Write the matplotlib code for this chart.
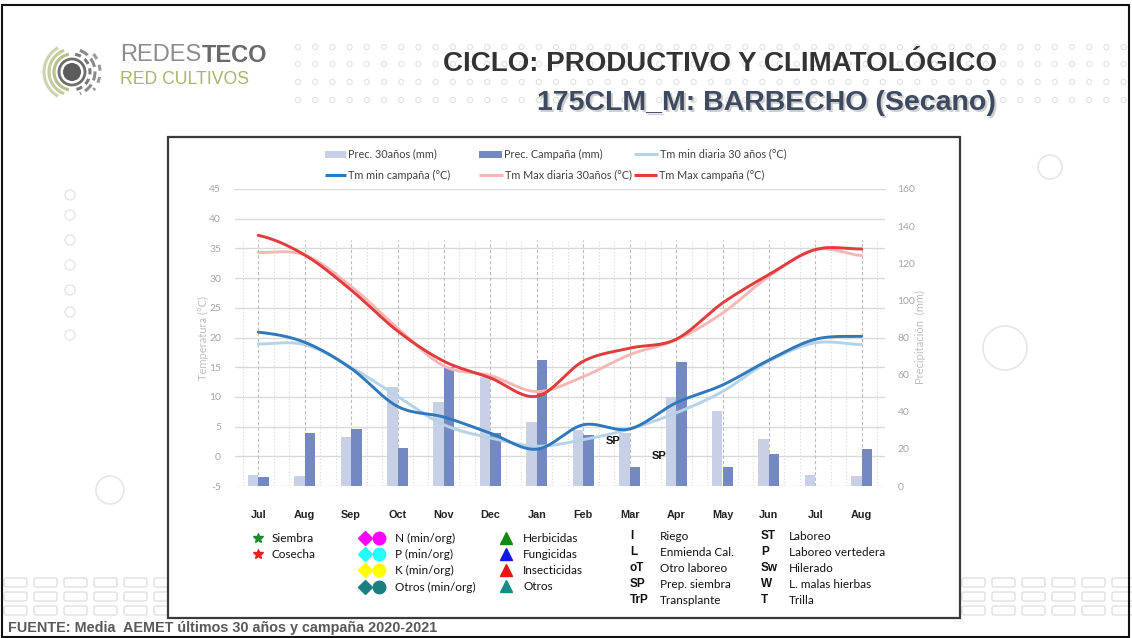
import numpy as np
import matplotlib.pyplot as plt
from matplotlib import font_manager
from matplotlib.patches import Rectangle, Circle, FancyBboxPatch, Arc

plt.rcParams['axes.unicode_minus'] = False

W, H = 1132, 638

# monthly data, Jul 2020 -> Aug 2021
months = ['Jul', 'Aug', 'Sep', 'Oct', 'Nov', 'Dec', 'Jan', 'Feb', 'Mar', 'Apr', 'May', 'Jun', 'Jul', 'Aug']
prec_30 = [6.1, 5.4, 26.6, 53.3, 45.1, 58.9, 34.7, 30.2, 28.4, 47.8, 40.6, 25.3, 6.1, 5.4]
prec_campaign = [5.0, 28.4, 30.9, 20.6, 64.3, 28.4, 67.9, 27.5, 10.1, 66.8, 10.4, 17.2, 0.0, 19.9]
tmin_30 = [18.9, 18.8, 15.0, 10.1, 5.3, 3.1, 1.7, 2.8, 4.6, 7.3, 10.9, 16.0, 19.1, 18.8]
tmin_campaign = [20.9, 19.2, 14.8, 8.4, 6.6, 3.9, 1.2, 5.3, 4.6, 9.0, 12.0, 16.2, 19.7, 20.2]
tmax_30 = [34.3, 33.9, 28.6, 21.6, 15.2, 13.6, 10.9, 13.4, 17.1, 19.6, 24.1, 30.3, 34.8, 33.8]
tmax_campaign = [37.2, 33.9, 28.0, 21.1, 16.0, 13.2, 10.1, 16.0, 18.2, 19.7, 25.8, 30.6, 34.8, 34.9]

# field operations marked on the chart (month index, temperature)
ops_labels = ['SP', 'SP']
ops_x = [7.65, 8.64]
ops_y = [2.6, 0.0]

C_P30, C_PCAMP = '#c8d0e7', '#7489c0'
C_TMIN30, C_TMIN = '#b5d3e8', '#2f78bb'
C_TMAX30, C_TMAX = '#f5b7b5', '#e33b3b'


def has_font(name):
    return any(f.name == name for f in font_manager.fontManager.ttflist)


narrow = 'Liberation Sans Narrow' if has_font('Liberation Sans Narrow') else 'Liberation Sans'
body = 'Lato'


def smooth(y, n=24):
    # Catmull-Rom curve through the monthly points (like a smoothed line)
    y = np.asarray(y, dtype=float)
    pts = np.concatenate([[y[0]], y, [y[-1]]])
    xs, ys = [], []
    for i in range(len(y) - 1):
        p0, p1, p2, p3 = pts[i], pts[i + 1], pts[i + 2], pts[i + 3]
        t = np.linspace(0, 1, n, endpoint=False)
        seg = 0.5 * ((2 * p1) + (-p0 + p2) * t + (2 * p0 - 5 * p1 + 4 * p2 - p3) * t ** 2
                     + (-p0 + 3 * p1 - 3 * p2 + p3) * t ** 3)
        xs.append(i + t)
        ys.append(seg)
    xs.append([len(y) - 1])
    ys.append([y[-1]])
    return np.concatenate(xs), np.concatenate(ys)


fig = plt.figure(figsize=(W / 100, H / 100), dpi=100)
fig.patch.set_facecolor('white')

# background layer in pixel coordinates
bg = fig.add_axes([0, 0, 1, 1])
bg.set_xlim(0, W)
bg.set_ylim(H, 0)
bg.axis('off')

# dotted band behind the title
for yy in [47, 64, 82, 100]:
    for xx in np.arange(298, W, 17.2):
        bg.add_patch(Circle((xx, yy), 2.6, fill=False, ec='#e2e2e2', lw=0.8))

# faint circles
for cx, cy, r in [(1050, 167, 12), (1005, 348, 22), (110, 490, 14)]:
    bg.add_patch(Circle((cx, cy), r, fc='white', ec='#e6e6e6', lw=1.2))
for cy in [195, 215, 240, 265, 290, 312, 335]:
    bg.add_patch(Circle((70, cy), 5, fc='white', ec='#e6e6e6', lw=1.0))

# rounded boxes at the bottom corners
for yy in [578, 592, 606]:
    for xx in list(np.arange(4, 165, 30)) + list(np.arange(962, W, 30)):
        bg.add_patch(FancyBboxPatch((xx, yy), 23, 9, boxstyle='round,pad=0,rounding_size=2',
                                    fc='none', ec='#dcdcdc', lw=0.9))

# logo
lx, ly = 72, 72
bg.add_patch(Circle((lx, ly), 9, fc='#5b5b5b', ec='none'))
bg.add_patch(Circle((lx, ly), 13, fc='none', ec='#6d6d6d', lw=2))
for r, col, t1, t2, ls in [(18, '#7a7a7a', -80, 80, (0, (2, 1.5))), (23, '#8a8a8a', -70, 70, (0, (3, 1.5))),
                           (18, '#b7bf8a', 100, 260, '-'), (23, '#c4cb9c', 110, 250, '-'),
                           (28, '#cdd3aa', 120, 240, '-'), (28, '#9a9a9a', -40, 40, (0, (2, 2)))]:
    bg.add_patch(Arc((lx, ly), 2 * r, 2 * r, theta1=t1, theta2=t2, color=col, lw=2.2, ls=ls))

t1 = bg.text(120, 55, 'REDES', fontsize=17, color='#8c8c8c', family='Liberation Sans',
             va='center', ha='left')
fig.canvas.draw()
bb = t1.get_window_extent(fig.canvas.get_renderer())
bg.text(bb.x1, 55, 'TECO', fontsize=17, color='#6a6a6a', family='Liberation Sans',
        weight='bold', va='center', ha='left')
bg.text(120, 79, 'RED CULTIVOS', fontsize=12.7, color='#a9b46c', family='Liberation Sans',
        va='center', ha='left')

# titles
bg.text(997, 64, 'CICLO: PRODUCTIVO Y CLIMATOLÓGICO', fontsize=20, weight='bold',
        color='#333333', family=narrow, ha='right', va='center')
bg.text(998, 105, '175CLM_M: BARBECHO (Secano)', fontsize=20.5, weight='bold',
        color='#cfcfcf', family=narrow, ha='right', va='center')
bg.text(996, 103, '175CLM_M: BARBECHO (Secano)', fontsize=20.5, weight='bold',
        color='#3d4a60', family=narrow, ha='right', va='center')

# chart frame and outer frame
bg.add_patch(Rectangle((168, 137), 792, 481, fc='white', ec='#3a3a3a', lw=1.6))
bg.add_patch(Rectangle((2, 5), 1127, 632, fc='none', ec='#111111', lw=1.5))

bg.text(8, 628, 'FUENTE: Media  AEMET últimos 30 años y campaña 2020-2021', fontsize=10.4,
        weight='bold', color='#595959', family='Liberation Sans', va='center', ha='left')

# series key above the plot
leg_font = dict(fontsize=7.8, color='#404040', family=body, va='center', ha='left')
for x0, x1, yy, col, lab, kind in [
        (325, 346, 154, C_P30, 'Prec. 30años (mm)', 'bar'),
        (479, 502, 154, C_PCAMP, 'Prec. Campaña (mm)', 'bar'),
        (634, 658, 154, C_TMIN30, 'Tm min diaria 30 años (°C)', 'line'),
        (325, 346, 175, C_TMIN, 'Tm min campaña (°C)', 'line'),
        (479, 503, 175, C_TMAX30, 'Tm Max diaria 30años (°C)', 'line'),
        (634, 657, 175, C_TMAX, 'Tm Max campaña (°C)', 'line')]:
    if kind == 'bar':
        bg.add_patch(Rectangle((x0, yy - 3.5), x1 - x0, 7, fc=col, ec='none'))
    else:
        bg.plot([x0, x1], [yy, yy], color=col, lw=2.2, solid_capstyle='butt')
    bg.text(x1 + 2, yy, lab, **leg_font)

# lower key
key_font = dict(fontsize=8.5, color='#111111', family=body, va='center', ha='left')
bg.plot(258, 538, marker='*', ms=7, color='#1e8a2e', ls='none')
bg.plot(258, 554, marker='*', ms=7, color='#e82020', ls='none')
bg.text(272, 538, 'Siembra', **key_font)
bg.text(272, 554, 'Cosecha', **key_font)
for yy, col, lab in [(538, '#ff00ff', 'N (min/org)'), (554, '#22ffff', 'P (min/org)'),
                     (570, '#ffff00', 'K (min/org)'), (587, '#1a7f7f', 'Otros (min/org)')]:
    bg.plot(365, yy, marker='D', ms=7.2, color=col, ls='none')
    bg.plot(379, yy, marker='o', ms=9, color=col, ls='none')
    bg.text(395, yy, lab, **key_font)
for yy, col, lab in [(539, '#138a13', 'Herbicidas'), (555, '#1414e6', 'Fungicidas'),
                     (571, '#ee1111', 'Insecticidas'), (587, '#178a8a', 'Otros')]:
    bg.plot(506, yy - 1, marker='^', ms=8, color=col, ls='none')
    bg.text(523, yy, lab, **key_font)
codes_a = ['I', 'L', 'oT', 'SP', 'TrP']
names_a = ['Riego', 'Enmienda Cal.', 'Otro laboreo', 'Prep. siembra', 'Transplante']
codes_b = ['ST', 'P', 'Sw', 'W', 'T']
names_b = ['Laboreo', 'Laboreo vertedera', 'Hilerado', 'L. malas hierbas', 'Trilla']
for i in range(5):
    yy = 537 + 16 * i
    bg.text(630, yy - 1, codes_a[i], fontsize=8.5, weight='bold', family='Liberation Sans',
            color='#111111', va='center', ha='left')
    bg.text(660, yy, names_a[i], **key_font)
    bg.text(761, yy - 1, codes_b[i], fontsize=8.5, weight='bold', family='Liberation Sans',
            color='#111111', va='center', ha='left')
    bg.text(789, yy, names_b[i], **key_font)

# chart
ax = fig.add_axes([235 / W, 1 - 486 / H, 650 / W, 297 / H])
ax2 = ax.twinx()
ax.set_zorder(ax2.get_zorder() + 1)
ax.patch.set_visible(False)

x = np.arange(len(months))
bw = 0.225
ax2.bar(x - bw / 2, prec_30, width=bw, color=C_P30, zorder=3)
ax2.bar(x + bw / 2, prec_campaign, width=bw, color=C_PCAMP, zorder=3)
ax2.set_ylim(0, 160)
ax2.set_yticks(np.arange(0, 161, 20))

ax.set_xlim(-0.5, len(months) - 0.5)
ax.set_ylim(-5, 45)
ax.set_yticks(np.arange(-5, 46, 5))
for yv in np.arange(-5, 46, 5):
    ax2.axhline((yv + 5) * 160 / 50, color='#d9d9d9', lw=1.0, zorder=0)
ax2.vlines(x, 0, 132.5, colors='#bdbdbd', lw=0.8, linestyles=(0, (3, 2)), zorder=1)
minor = np.concatenate([x - 1 / 3, x + 1 / 3])
ax2.vlines(minor, 0, 132.5, colors='#d6d6d6', lw=0.8, linestyles=(0, (1, 2)), zorder=1)

for vals, col in [(tmin_30, C_TMIN30), (tmax_30, C_TMAX30), (tmin_campaign, C_TMIN), (tmax_campaign, C_TMAX)]:
    sx, sy = smooth(vals)
    ax.plot(sx, sy, color=col, lw=2.1, solid_capstyle='round')

for lab, ox, oy in zip(ops_labels, ops_x, ops_y):
    ax.text(ox, oy, lab, fontsize=8, weight='bold', family='Liberation Sans', color='#111111',
            ha='center', va='center')

for a in (ax, ax2):
    for s in a.spines.values():
        s.set_visible(False)
ax.tick_params(axis='y', length=0, labelsize=7.5, labelcolor='#a6a6a6', pad=10)
ax2.tick_params(axis='y', length=0, labelsize=7.5, labelcolor='#a6a6a6', pad=9)
for lbl in ax.get_yticklabels() + ax2.get_yticklabels():
    lbl.set_family(body)
ax.set_xticks(x)
ax.set_xticklabels(months, fontsize=7.8, weight='bold', family='Liberation Sans', color='#222222')
ax.tick_params(axis='x', length=0, pad=17)
ax.set_ylabel('Temperatura (°C)', fontsize=8, color='#bfbfbf', family=body, labelpad=0)
ax2.set_ylabel('Precipitación  (mm)', fontsize=8, color='#bfbfbf', family=body, labelpad=0)

fig.savefig('out.png', dpi=100)
